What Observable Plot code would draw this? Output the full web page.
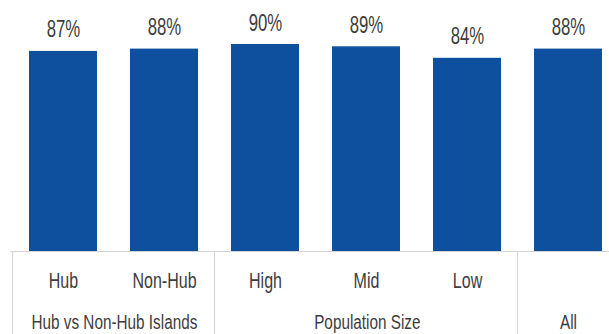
<!DOCTYPE html>
<html>
<head>
<meta charset="utf-8">
<script src="https://cdn.jsdelivr.net/npm/d3@7"></script>
<script src="https://cdn.jsdelivr.net/npm/@observablehq/plot@0.6"></script>
<style>
  html, body { margin: 0; padding: 0; background: #fff; overflow: hidden; }
  #chart svg { display: block; }
</style>
</head>
<body>
<div id="chart"></div>
<script>
const categories = ["Hub", "Non-Hub", "High", "Mid", "Low", "All"];
const values = [87, 88, 90, 89, 84, 88];
const groupNames = ["Hub vs Non-Hub Islands", "Population Size", "All"];
const groupMembers = [["Hub", "Non-Hub"], ["High", "Mid", "Low"], ["All"]];

const data = categories.map((c, i) => ({category: c, value: values[i]}));
// a category that forms a group on its own is only labelled by its group
const soloCats = groupMembers.filter((m, k) => m.length === 1 && m[0] === groupNames[k]).map(m => m[0]);
const catLabels = data.filter(d => !soloCats.includes(d.category));

const xRange = [10, 621];
const pInner = 0.33, pOuter = 0.165;
const step = (xRange[1] - xRange[0]) / (categories.length - pInner + 2 * pOuter);
const half = step / 2;

const font = "'Liberation Sans', Arial, sans-serif";
const textColor = "#3d3d3d";
const gridColor = "#d4d4d4";

const groupMarks = groupNames.map((g, k) => {
  const m = groupMembers[k];
  return Plot.text([g], {
    x: () => m[0],
    y: () => 0,
    text: d => d,
    dx: (m.length - 1) * half,
    dy: 77,
    lineAnchor: "bottom",
    fontSize: 21,
    fill: textColor
  });
});

const chart = Plot.plot({
  width: 609,
  height: 334,
  marginTop: 0,
  marginBottom: 0,
  marginLeft: 10,
  marginRight: 0,
  style: {fontFamily: font, background: "#fff", overflow: "hidden"},
  x: {domain: categories, range: xRange, paddingInner: pInner, paddingOuter: pOuter, axis: null},
  y: {domain: [0, 100], range: [251, 21], axis: null},
  marks: [
    Plot.barY(data, {x: "category", y: "value", fill: "#0e4f9e"}),
    Plot.text(data, {x: "category", y: "value", text: d => d.value + "%", lineAnchor: "bottom", dy: -14, fontSize: 23, fill: textColor}),
    Plot.ruleY([0], {stroke: gridColor, strokeWidth: 1}),
    Plot.ruleX(groupMembers.map(m => m[0]), {x: d => d, y1: 0, y2: -40, dx: -half, stroke: gridColor, strokeWidth: 1}),
    Plot.text(catLabels, {x: "category", y: () => 0, text: "category", dy: 36, lineAnchor: "bottom", fontSize: 22, fill: textColor}),
    ...groupMarks
  ]
});
document.getElementById("chart").appendChild(chart);

// condense the text horizontally to mimic the narrow typeface of the original
const texts = Array.from(chart.querySelectorAll("text"));
const ref = texts.find(t => t.textContent === groupNames[0]);
const k = ref ? Math.min(1, 166 / ref.getComputedTextLength()) : 0.72;
texts.forEach(t => {
  let tr = t.getAttribute("transform") || "";
  const x = t.getAttribute("x"), y = t.getAttribute("y");
  if (x !== null || y !== null) {
    tr = `translate(${+x || 0},${+y || 0}) ` + tr;
    t.removeAttribute("x"); t.removeAttribute("y");
  }
  t.setAttribute("transform", tr + ` scale(${k},1)`);
});
</script>
</body>
</html>
